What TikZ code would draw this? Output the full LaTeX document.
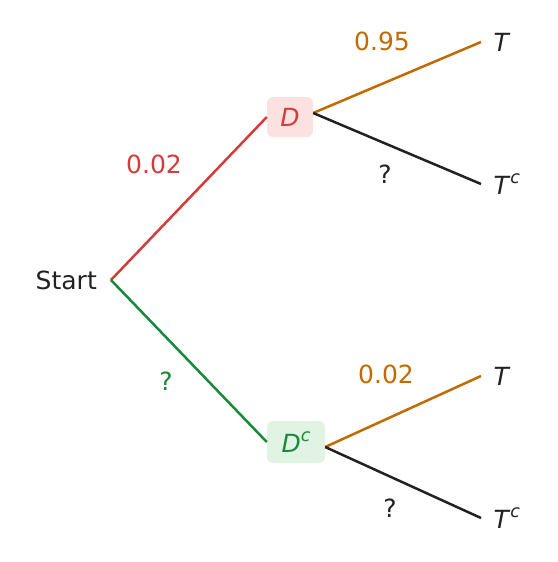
\documentclass[tikz,border=0pt]{standalone}
\usepackage{fontspec}
\setmainfont{DejaVu Sans}
\usepackage{xcolor}
\usepackage{tikz}
\usetikzlibrary{positioning}

\definecolor{probred}{HTML}{D63B3B}
\definecolor{proborange}{HTML}{C06A00}
\definecolor{probgreen}{HTML}{17893A}
\definecolor{ink}{HTML}{222222}
\definecolor{boxred}{HTML}{FCE1E1}
\definecolor{boxgreen}{HTML}{E1F3E3}

\newcommand{\compl}[1]{\textit{#1}\raisebox{0.42em}{\fontsize{17.5}{18}\selectfont\textit{c}}}

\begin{document}
\begin{tikzpicture}[x=1pt,y=-1pt,font=\fontsize{25}{30}\selectfont,text=ink,
	event/.style={rounded corners=6pt,inner sep=0pt,minimum height=40pt},
	branch/.style={line width=2.5pt},
	outcome/.style={right=9pt of #1}]
	\useasboundingbox (0,0) rectangle (557,562);

	% root and the two first-stage events
	\coordinate (root) at (111,280);
	\node[left=14pt of root,inner sep=0pt] (start) {Start};
	\node[event,fill=boxred,text=probred,minimum width=46pt] (D) at (290,117) {\textit{D}};
	\node[event,fill=boxgreen,text=probgreen,minimum width=58pt,minimum height=42pt] (Dc) at (296,442) {\compl{D}};
	\coordinate (Dout) at ([yshift=4pt]D.east);
	\coordinate (Dcout) at ([yshift=-5pt]Dc.east);

	% leaves
	\foreach \leaf/\y/\lab in {DT/42/{\textit{T}},DTc/184/{\compl{T}},DcT/376/{\textit{T}},DcTc/518/{\compl{T}}} {
		\coordinate (\leaf) at (481,\y);
		\node[outcome=\leaf] (\leaf-lab) {\lab};
	}

	% branches
	\draw[branch,probred] (root) -- (D.west);
	\draw[branch,probgreen] (root) -- (Dc.west);
	\draw[branch,proborange] (Dout) -- (DT);
	\draw[branch,ink] (Dout) -- (DTc);
	\draw[branch,proborange] (Dcout) -- (DcT);
	\draw[branch,ink] (Dcout) -- (DcTc);

	% probabilities
	\node[text=probred] (pD) at (154,164) {0.02};
	\node[text=probgreen] (pDc) at (166,381) {?};
	\node[text=proborange] (pTD) at (382,41) {0.95};
	\node (pTcD) at (385,174) {?};
	\node[text=proborange] (pTDc) at (386,374) {0.02};
	\node (pTcDc) at (390,508) {?};
\end{tikzpicture}
\end{document}
